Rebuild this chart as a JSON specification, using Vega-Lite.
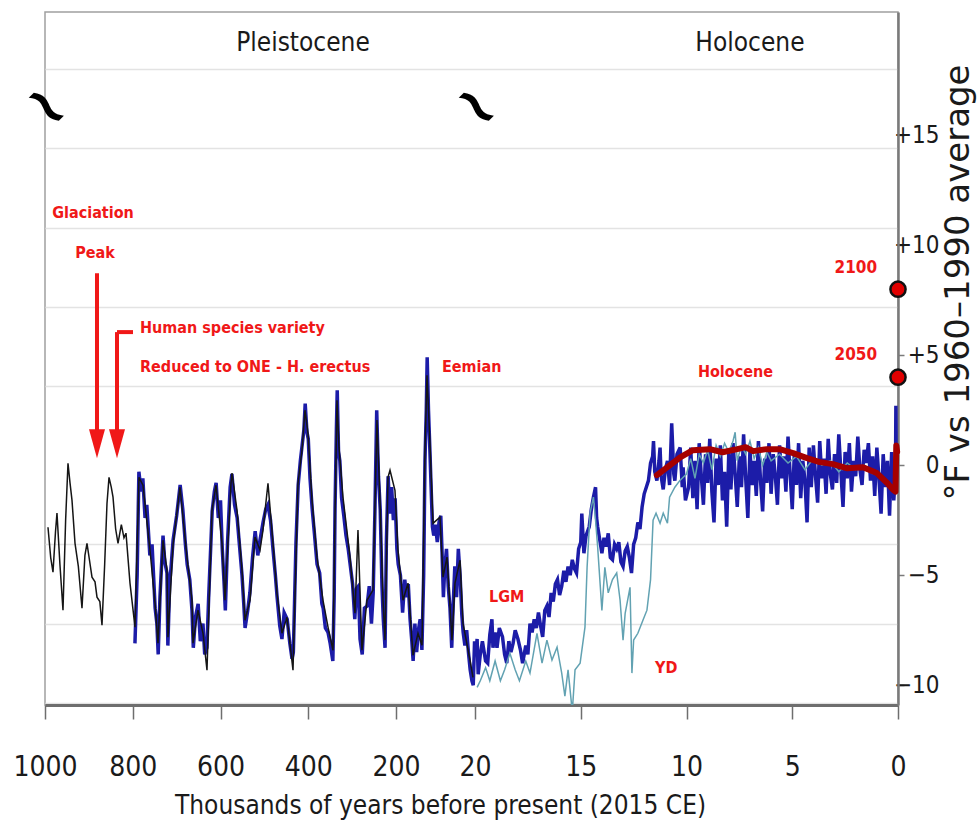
{
  "$schema": "https://vega.github.io/schema/vega-lite/v6.json",
  "autosize": {"type": "none"},
  "width": 853,
  "height": 693,
  "padding": {"left": 45, "top": 12, "right": 80, "bottom": 118},
  "background": "white",
  "config": {"view": {"stroke": "#a0a0a0", "strokeWidth": 1.5}, "font": "DejaVu Sans Condensed, Liberation Sans, sans-serif"},
  "datasets": {
    "black": [
      {"t":993.2,"v":-2.82},{"t":987,"v":-4.2},{"t":981.8,"v":-4.86},{"t":976,"v":-3.0},{"t":972.7,"v":-2.18},{"t":966,"v":-4.5},{"t":959,"v":-6.59},{"t":953,"v":-2.5},{"t":947.6,"v":0.09},{"t":943,"v":-0.8},{"t":938.5,"v":-1.59},{"t":931.6,"v":-3.55},{"t":924,"v":-4.6},{"t":915.7,"v":-6.5},{"t":909,"v":-4.1},{"t":904.3,"v":-3.55},{"t":898,"v":-4.4},{"t":892.9,"v":-5.09},{"t":886,"v":-5.3},{"t":881.5,"v":-6.0},{"t":875,"v":-6.2},{"t":870.1,"v":-7.27},{"t":864,"v":-4.5},{"t":858.7,"v":-1.73},{"t":854.1,"v":-0.55},{"t":849,"v":-1.0},{"t":845,"v":-1.45},{"t":839,"v":-2.9},{"t":833.6,"v":-3.55},{"t":826,"v":-2.7},{"t":820,"v":-3.3},{"t":815.4,"v":-3.09},{"t":806.3,"v":-5.36},{"t":794.9,"v":-7.36},{"t":785.8,"v":-0.55},{"t":776.7,"v":-0.91},{"t":760.7,"v":-3.86},{"t":749.3,"v":-6.27},{"t":742.5,"v":-8.09},{"t":731.1,"v":-3.41},{"t":722,"v":-4.77},{"t":719.7,"v":-7.82},{"t":708.3,"v":-3.64},{"t":692.3,"v":-1.0},{"t":676.4,"v":-4.18},{"t":665,"v":-6.14},{"t":662.7,"v":-8.09},{"t":651.3,"v":-6.59},{"t":639.9,"v":-7.64},{"t":630.8,"v":-9.32},{"t":619.4,"v":-2.05},{"t":610.3,"v":-0.91},{"t":596.6,"v":-3.55},{"t":589.8,"v":-6.14},{"t":576.1,"v":-0.82},{"t":573.8,"v":-0.36},{"t":562.4,"v":-2.05},{"t":551,"v":-4.77},{"t":544.2,"v":-7.05},{"t":532.8,"v":-6.14},{"t":521.4,"v":-3.27},{"t":510,"v":-3.86},{"t":503.2,"v":-2.95},{"t":491.8,"v":-0.82},{"t":480.4,"v":-3.55},{"t":471.3,"v":-5.82},{"t":459.9,"v":-7.64},{"t":448.5,"v":-6.91},{"t":434.8,"v":-9.32},{"t":423.4,"v":-0.82},{"t":414.3,"v":0.68},{"t":407.5,"v":2.5},{"t":400.6,"v":1.45},{"t":391.5,"v":-1.59},{"t":380.1,"v":-4.18},{"t":366.4,"v":-6.14},{"t":355,"v":-7.36},{"t":343.6,"v":-8.41},{"t":339.1,"v":-2.36},{"t":334.5,"v":2.95},{"t":330,"v":0.82},{"t":320.9,"v":-1.45},{"t":304.9,"v":-4.18},{"t":293.5,"v":-6.73},{"t":286.7,"v":-2.95},{"t":277.6,"v":-8.41},{"t":266.2,"v":-6.14},{"t":252.5,"v":-5.68},{"t":243.4,"v":2.05},{"t":236.5,"v":-1.59},{"t":229.7,"v":-6.14},{"t":225.1,"v":-7.95},{"t":218.3,"v":-0.55},{"t":213.7,"v":-0.23},{"t":202.4,"v":-1.14},{"t":195.5,"v":-3.86},{"t":184.1,"v":-6.14},{"t":172.7,"v":-5.36},{"t":161.3,"v":-8.64},{"t":149.9,"v":-7.64},{"t":140.8,"v":-8.18},{"t":134,"v":0.68},{"t":129.4,"v":4.09},{"t":122.6,"v":1.0},{"t":115.7,"v":-2.64},{"t":99.8,"v":-2.36},{"t":92.9,"v":-5.09},{"t":83.8,"v":-4.18},{"t":72.4,"v":-7.95},{"t":65.6,"v":-5.36},{"t":54.2,"v":-4.32},{"t":47.4,"v":-7.18},{"t":31.4,"v":-8.86},{"t":24.6,"v":-9.64}
    ],
    "blue": [
      {"t":795,"v":-8.1},{"t":790,"v":-5},{"t":786,"v":-0.3},{"t":781,"v":-1.2},{"t":777,"v":-0.6},{"t":772,"v":-2.4},{"t":768,"v":-1.8},{"t":761,"v":-4.1},{"t":756,"v":-3.6},{"t":749,"v":-6.5},{"t":745,"v":-7.2},{"t":742,"v":-8.6},{"t":738,"v":-6.0},{"t":731,"v":-3.2},{"t":727,"v":-4.4},{"t":722,"v":-4.9},{"t":720,"v":-8.2},{"t":716,"v":-5.5},{"t":708,"v":-3.4},{"t":700,"v":-2.3},{"t":692,"v":-0.9},{"t":686,"v":-2.0},{"t":680,"v":-3.6},{"t":676,"v":-4.5},{"t":670,"v":-5.2},{"t":665,"v":-6.6},{"t":662,"v":-8.3},{"t":657,"v":-6.9},{"t":651,"v":-6.3},{"t":646,"v":-8.0},{"t":640,"v":-7.2},{"t":636,"v":-8.6},{"t":631,"v":-8.3},{"t":627,"v":-6.0},{"t":619,"v":-2.1},{"t":614,"v":-1.2},{"t":610,"v":-0.8},{"t":605,"v":-2.4},{"t":600,"v":-1.6},{"t":596,"v":-3.8},{"t":592,"v":-5.3},{"t":589,"v":-6.6},{"t":584,"v":-3.5},{"t":578,"v":-1.0},{"t":574,"v":-0.4},{"t":568,"v":-1.8},{"t":562,"v":-2.4},{"t":557,"v":-3.6},{"t":551,"v":-5.0},{"t":547,"v":-6.3},{"t":544,"v":-7.4},{"t":538,"v":-6.6},{"t":533,"v":-5.8},{"t":527,"v":-4.2},{"t":521,"v":-3.0},{"t":515,"v":-4.1},{"t":510,"v":-3.4},{"t":503,"v":-2.6},{"t":497,"v":-2.0},{"t":492,"v":-1.8},{"t":486,"v":-2.5},{"t":480,"v":-3.9},{"t":475,"v":-5.0},{"t":471,"v":-6.0},{"t":465,"v":-7.3},{"t":460,"v":-7.9},{"t":455,"v":-6.7},{"t":448,"v":-7.0},{"t":442,"v":-8.1},{"t":437,"v":-8.8},{"t":434,"v":-8.5},{"t":428,"v":-3.5},{"t":423,"v":-0.9},{"t":418,"v":0.2},{"t":414,"v":0.9},{"t":410,"v":1.6},{"t":407,"v":2.8},{"t":403,"v":1.5},{"t":400,"v":1.2},{"t":396,"v":-0.6},{"t":391,"v":-2.0},{"t":386,"v":-3.1},{"t":380,"v":-4.5},{"t":374,"v":-4.9},{"t":369,"v":-6.3},{"t":366,"v":-6.5},{"t":361,"v":-7.4},{"t":355,"v":-7.6},{"t":350,"v":-8.1},{"t":344,"v":-8.9},{"t":341,"v":-6.0},{"t":339,"v":-2.0},{"t":336,"v":1.5},{"t":334,"v":3.4},{"t":331,"v":0.6},{"t":328,"v":0.2},{"t":324,"v":-1.5},{"t":319,"v":-2.3},{"t":314,"v":-3.2},{"t":309,"v":-3.8},{"t":304,"v":-4.6},{"t":299,"v":-5.4},{"t":294,"v":-7.0},{"t":290,"v":-5.6},{"t":286,"v":-5.5},{"t":282,"v":-7.9},{"t":277,"v":-8.6},{"t":272,"v":-6.5},{"t":266,"v":-6.4},{"t":261,"v":-5.5},{"t":256,"v":-7.2},{"t":252,"v":-5.8},{"t":248,"v":-2.0},{"t":244,"v":2.5},{"t":240,"v":-0.5},{"t":236,"v":-2.0},{"t":232,"v":-5.5},{"t":229,"v":-7.0},{"t":225,"v":-8.3},{"t":222,"v":-3.5},{"t":218,"v":-0.5},{"t":214,"v":-2.2},{"t":210,"v":-1.0},{"t":206,"v":-2.5},{"t":202,"v":-1.5},{"t":198,"v":-3.8},{"t":195,"v":-4.5},{"t":190,"v":-5.0},{"t":185,"v":-6.7},{"t":180,"v":-5.2},{"t":176,"v":-6.0},{"t":172,"v":-5.4},{"t":168,"v":-7.0},{"t":164,"v":-8.0},{"t":161,"v":-8.9},{"t":157,"v":-7.2},{"t":153,"v":-8.5},{"t":149,"v":-7.5},{"t":145,"v":-7.0},{"t":141,"v":-8.4},{"t":137,"v":-5.0},{"t":134,"v":0.2},{"t":131,"v":2.5},{"t":129,"v":4.9},{"t":126,"v":2.5},{"t":123,"v":0.8},{"t":120,"v":-1.0},{"t":117,"v":-2.8},{"t":114,"v":-3.2},{"t":110,"v":-2.7},{"t":106,"v":-3.5},{"t":102,"v":-2.6},{"t":98,"v":-2.3},{"t":95,"v":-4.0},{"t":92,"v":-6.0},{"t":89,"v":-4.7},{"t":85,"v":-3.8},{"t":81,"v":-5.5},{"t":77,"v":-6.5},{"t":73,"v":-8.3},{"t":70,"v":-6.5},{"t":66,"v":-4.6},{"t":62,"v":-6.0},{"t":58,"v":-3.8},{"t":54,"v":-5.0},{"t":50,"v":-6.8},{"t":47,"v":-7.6},{"t":43,"v":-8.2},{"t":39,"v":-7.5},{"t":35,"v":-8.5},{"t":31,"v":-9.3},{"t":27,"v":-9.8},{"t":24,"v":-10.0},{"t":21,"v":-8.0},
      {"t":19.95,"v":-8.5},{"t":19.9,"v":-7.9},{"t":19.85,"v":-9.5},{"t":19.75,"v":-8.6},{"t":19.65,"v":-8.0},{"t":19.6,"v":-8.3},{"t":19.5,"v":-8.9},{"t":19.4,"v":-9.0},{"t":19.3,"v":-7.7},{"t":19.2,"v":-7.0},{"t":19.15,"v":-8.3},{"t":19.05,"v":-7.6},{"t":18.96,"v":-8.3},{"t":18.85,"v":-7.4},{"t":18.7,"v":-7.8},{"t":18.6,"v":-8.6},{"t":18.5,"v":-9.0},{"t":18.4,"v":-8.0},{"t":18.3,"v":-8.5},{"t":18.2,"v":-8.1},{"t":18.1,"v":-7.5},{"t":17.97,"v":-7.9},{"t":17.85,"v":-8.4},{"t":17.75,"v":-9.0},{"t":17.6,"v":-8.2},{"t":17.5,"v":-8.6},{"t":17.4,"v":-7.2},{"t":17.3,"v":-7.6},{"t":17.2,"v":-7.0},{"t":17.1,"v":-7.4},{"t":17.0,"v":-6.7},{"t":16.9,"v":-7.3},{"t":16.8,"v":-7.8},{"t":16.7,"v":-6.6},{"t":16.6,"v":-6.4},{"t":16.5,"v":-6.9},{"t":16.4,"v":-5.8},{"t":16.3,"v":-6.2},{"t":16.2,"v":-5.4},{"t":16.1,"v":-5.2},{"t":16.0,"v":-5.9},{"t":15.9,"v":-5.5},{"t":15.8,"v":-4.8},{"t":15.7,"v":-5.3},{"t":15.6,"v":-4.6},{"t":15.5,"v":-5.0},{"t":15.4,"v":-4.3},{"t":15.3,"v":-4.7},{"t":15.2,"v":-4.9},{"t":15.1,"v":-3.8},{"t":15.0,"v":-3.5},{"t":14.95,"v":-2.2},{"t":14.85,"v":-4.0},{"t":14.75,"v":-3.2},{"t":14.6,"v":-2.8},{"t":14.5,"v":-2.0},{"t":14.4,"v":-1.45},{"t":14.3,"v":-1.0},{"t":14.25,"v":-2.4},{"t":14.2,"v":-2.8},{"t":14.1,"v":-3.4},{"t":14.0,"v":-4.0},{"t":13.9,"v":-3.3},{"t":13.8,"v":-3.7},{"t":13.7,"v":-3.1},{"t":13.6,"v":-4.2},{"t":13.5,"v":-4.3},{"t":13.4,"v":-3.6},{"t":13.3,"v":-3.8},{"t":13.2,"v":-3.5},{"t":13.1,"v":-4.4},{"t":13.0,"v":-4.6},{"t":12.9,"v":-3.9},{"t":12.8,"v":-3.7},{"t":12.7,"v":-4.2},{"t":12.6,"v":-4.9},{"t":12.5,"v":-3.6},{"t":12.4,"v":-3.3},{"t":12.3,"v":-2.6},{"t":12.2,"v":-2.9},{"t":12.1,"v":-1.9},{"t":12.0,"v":-1.3},{"t":11.9,"v":-1.0},{"t":11.8,"v":-0.7},{"t":11.7,"v":0.1},{"t":11.6,"v":0.4},{"t":11.56,"v":1.1},{"t":11.5,"v":-0.3},{"t":11.4,"v":-0.7},{"t":11.3,"v":0.2},{"t":11.25,"v":0.8},{"t":11.2,"v":-0.5},{"t":11.1,"v":-1.1},{"t":11.0,"v":-0.2},{"t":10.9,"v":0.2},{"t":10.8,"v":-0.9},{"t":10.7,"v":1.9},{"t":10.6,"v":-0.4},{"t":10.55,"v":-0.7},{"t":10.45,"v":0.5},{"t":10.3,"v":0.8},{"t":10.2,"v":-1.0},{"t":10.16,"v":-0.1},{"t":10.05,"v":-1.6},
      {"t":9.9,"v":-1.0},{"t":9.8,"v":0.8},{"t":9.7,"v":-1.5},{"t":9.6,"v":0.2},{"t":9.5,"v":-2.0},{"t":9.4,"v":1.0},{"t":9.3,"v":-0.5},{"t":9.2,"v":-1.8},{"t":9.1,"v":0.5},{"t":9.0,"v":-0.8},{"t":8.9,"v":1.2},{"t":8.8,"v":-1.2},{"t":8.7,"v":-2.6},{"t":8.6,"v":0.3},{"t":8.5,"v":-0.9},{"t":8.4,"v":0.9},{"t":8.3,"v":-1.6},{"t":8.2,"v":-0.3},{"t":8.1,"v":-2.8},{"t":8.0,"v":0.6},{"t":7.9,"v":-1.1},{"t":7.8,"v":1.0},{"t":7.7,"v":-0.4},{"t":7.6,"v":-1.9},{"t":7.5,"v":0.4},{"t":7.4,"v":-1.0},{"t":7.3,"v":1.4},{"t":7.2,"v":-0.6},{"t":7.1,"v":-2.4},{"t":7.0,"v":0.7},{"t":6.9,"v":-0.9},{"t":6.8,"v":0.2},{"t":6.7,"v":-1.4},{"t":6.6,"v":1.1},{"t":6.5,"v":-0.7},{"t":6.4,"v":-2.1},{"t":6.3,"v":0.3},{"t":6.2,"v":-0.8},{"t":6.1,"v":1.0},{"t":6.0,"v":-1.3},{"t":5.9,"v":0.5},{"t":5.8,"v":-0.5},{"t":5.7,"v":-1.8},{"t":5.6,"v":0.9},{"t":5.5,"v":-0.6},{"t":5.4,"v":0.4},{"t":5.3,"v":-1.2},{"t":5.2,"v":1.3},{"t":5.1,"v":-0.4},{"t":5.0,"v":-2.0},{"t":4.9,"v":0.6},{"t":4.8,"v":-0.9},{"t":4.7,"v":1.0},{"t":4.6,"v":-1.5},{"t":4.5,"v":0.2},{"t":4.4,"v":-0.7},{"t":4.3,"v":-2.6},{"t":4.2,"v":0.8},{"t":4.1,"v":-1.0},{"t":4.0,"v":0.9},{"t":3.9,"v":-0.5},{"t":3.8,"v":-1.7},{"t":3.7,"v":1.1},{"t":3.6,"v":-0.6},{"t":3.5,"v":0.3},{"t":3.4,"v":-1.3},{"t":3.3,"v":1.2},{"t":3.2,"v":-0.4},{"t":3.1,"v":-1.1},{"t":3.0,"v":0.5},{"t":2.9,"v":-0.8},{"t":2.8,"v":1.4},{"t":2.7,"v":-0.3},{"t":2.6,"v":-1.9},{"t":2.5,"v":0.6},{"t":2.4,"v":-0.6},{"t":2.3,"v":1.0},{"t":2.2,"v":-1.2},{"t":2.1,"v":0.2},{"t":2.0,"v":-0.5},{"t":1.9,"v":1.3},{"t":1.8,"v":-0.2},{"t":1.7,"v":-0.9},{"t":1.6,"v":0.7},{"t":1.5,"v":0.1},{"t":1.4,"v":1.0},{"t":1.3,"v":-0.7},{"t":1.2,"v":0.4},{"t":1.1,"v":-1.4},{"t":1.0,"v":0.8},{"t":0.9,"v":-0.6},{"t":0.8,"v":-2.2},{"t":0.7,"v":0.5},{"t":0.6,"v":-1.0},{"t":0.5,"v":0.2},{"t":0.4,"v":-2.3},{"t":0.3,"v":0.6},{"t":0.2,"v":-1.6},{"t":0.12,"v":-0.5},{"t":0.1,"v":2.7},{"t":0.08,"v":-1.0},{"t":0.03,"v":0.5}
    ],
    "teal": [
      {"t":19.9,"v":-10.1},{"t":19.75,"v":-9.8},{"t":19.5,"v":-9.2},{"t":19.3,"v":-9.8},{"t":19.05,"v":-8.9},{"t":18.8,"v":-9.8},{"t":18.6,"v":-9.3},{"t":18.35,"v":-8.55},{"t":18.1,"v":-9.3},{"t":17.9,"v":-9.8},{"t":17.6,"v":-8.9},{"t":17.4,"v":-9.45},{"t":17.07,"v":-7.64},{"t":16.83,"v":-9.0},{"t":16.6,"v":-7.95},{"t":16.36,"v":-8.86},{"t":16.12,"v":-8.27},{"t":15.9,"v":-9.45},{"t":15.75,"v":-10.5},{"t":15.6,"v":-9.3},{"t":15.4,"v":-11.2},{"t":15.27,"v":-9.3},{"t":15.03,"v":-9.0},{"t":14.8,"v":-7.36},{"t":14.7,"v":-4.64},{"t":14.56,"v":-2.18},{"t":14.4,"v":-1.45},{"t":14.3,"v":-2.5},{"t":14.2,"v":-3.73},{"t":14.0,"v":-6.6},{"t":13.86,"v":-4.64},{"t":13.7,"v":-5.8},{"t":13.5,"v":-5.2},{"t":13.3,"v":-4.9},{"t":13.14,"v":-6.14},{"t":13.0,"v":-7.95},{"t":12.9,"v":-6.73},{"t":12.67,"v":-5.55},{"t":12.58,"v":-9.45},{"t":12.5,"v":-7.95},{"t":12.3,"v":-7.64},{"t":12.06,"v":-7.05},{"t":11.87,"v":-6.59},{"t":11.7,"v":-5.2},{"t":11.58,"v":-2.5},{"t":11.44,"v":-2.18},{"t":11.25,"v":-2.64},{"t":11.1,"v":-2.18},{"t":10.9,"v":-2.64},{"t":10.8,"v":-1.45},{"t":10.55,"v":-1.0},{"t":10.3,"v":-0.68},{"t":10.0,"v":-0.4},{"t":9.8,"v":0.3},{"t":9.6,"v":-0.6},{"t":9.4,"v":0.5},{"t":9.2,"v":0.1},{"t":9.0,"v":0.7},{"t":8.8,"v":-0.2},{"t":8.6,"v":0.9},{"t":8.4,"v":0.4},{"t":8.2,"v":1.0},{"t":8.0,"v":0.6},{"t":7.8,"v":1.1},{"t":7.7,"v":1.5},{"t":7.6,"v":0.2},{"t":7.4,"v":0.9},{"t":7.2,"v":0.5},{"t":7.0,"v":1.1},{"t":6.8,"v":0.3},{"t":6.6,"v":0.8},{"t":6.4,"v":0.0},{"t":6.2,"v":0.6},{"t":6.0,"v":0.2},{"t":5.6,"v":0.5},{"t":5.2,"v":0.1},{"t":4.8,"v":0.4},{"t":4.4,"v":-0.2},{"t":4.0,"v":0.3},{"t":3.6,"v":0.0},{"t":3.2,"v":0.2},{"t":2.8,"v":-0.3},{"t":2.4,"v":0.1},{"t":2.0,"v":-0.2},{"t":1.6,"v":0.0},{"t":1.2,"v":-0.4}
    ],
    "red": [
      {"t":11.4,"v":-0.45},{"t":10.9,"v":-0.09},{"t":10.3,"v":0.36},{"t":9.7,"v":0.68},{"t":8.9,"v":0.73},{"t":8.3,"v":0.59},{"t":7.6,"v":0.73},{"t":7.2,"v":0.82},{"t":6.85,"v":0.64},{"t":6.2,"v":0.73},{"t":5.6,"v":0.73},{"t":4.96,"v":0.55},{"t":4.3,"v":0.32},{"t":3.7,"v":0.14},{"t":3.07,"v":0.05},{"t":2.4,"v":-0.14},{"t":1.65,"v":-0.09},{"t":1.0,"v":-0.36},{"t":0.5,"v":-0.82},{"t":0.25,"v":-1.1},{"t":0.12,"v":-1.2},{"t":0.08,"v":0.9},{"t":0.04,"v":0.6}
    ],
    "projections": [
      {"year":"2100","t":0,"v":8},
      {"year":"2050","t":0,"v":4}
    ],
    "notes": [
      {"label":"Glaciation","t":890.6,"v":11.45,"grp":"center"},
      {"label":"Peak","t":886,"v":9.64,"grp":"center"},
      {"label":"Human species variety","t":783.5,"v":6.23,"grp":"left"},
      {"label":"Reduced to ONE - H. erectus","t":783.5,"v":4.45,"grp":"left"},
      {"label":"Eemian","t":95.2,"v":4.45,"grp":"left"},
      {"label":"LGM","t":19.34,"v":-6.0,"grp":"left"},
      {"label":"YD","t":11.49,"v":-9.2,"grp":"left"},
      {"label":"Holocene","t":9.46,"v":4.23,"grp":"left"},
      {"label":"2100","t":0.99,"v":8.95,"grp":"right"},
      {"label":"2050","t":0.99,"v":5.0,"grp":"right"}
    ],
    "epochs": [
      {"label":"Pleistocene","t":412,"v":19.2},
      {"label":"Holocene","t":7.0,"v":19.2}
    ],
    "breaks": [
      {"t":1000,"v":16.3},
      {"t":20,"v":16.3}
    ],
    "arrows": [
      {"t":881.5,"v1":8.73,"v2":1.5},
      {"t":835.9,"v1":6.05,"v2":1.5}
    ],
    "arrowheads": [
      {"t":881.5,"v":0.32},
      {"t":835.9,"v":0.32}
    ],
    "bracket": [
      {"t":835.9,"t2":799.4,"v":6.05}
    ]
  },
  "resolve": {"axis": {"y": "independent", "x": "independent"}},
  "layer": [
    {
      "mark": {"type": "rule", "color": "#6e6e6e", "strokeWidth": 3},
      "encoding": {
        "y": {"datum": 0, "type": "quantitative",
          "scale": {"domain": [-10.9, 20.6], "nice": false, "zero": false},
          "axis": {"orient": "left", "values": [-10.8, -7.2, -3.6, 3.6, 7.2, 10.8, 14.4, 18], "grid": true, "gridColor": "#e3e3e3", "gridWidth": 1.5, "labels": false, "ticks": false, "domain": false, "title": null}}
      }
    },
    {
      "mark": {"type": "rule", "color": "#7a7a7a", "strokeWidth": 5},
      "encoding": {"y": {"datum": 20.6, "type": "quantitative", "axis": null}}
    },
    {
      "mark": {"type": "rule", "color": "#b0b0b0", "strokeWidth": 1.5, "xOffset": 3},
      "encoding": {"x": {"datum": 1000, "type": "quantitative", "axis": null}}
    },
    {
      "mark": {"type": "rule", "color": "#a8a8a8", "strokeWidth": 1.5, "xOffset": -2},
      "encoding": {"x": {"datum": 20, "type": "quantitative", "axis": null}}
    },
    {
      "mark": {"type": "rule", "color": "#a8a8a8", "strokeWidth": 1.5, "xOffset": 2},
      "encoding": {"x": {"datum": 20, "type": "quantitative", "axis": null}}
    },
    {
      "mark": {"type": "rule", "color": "#808080", "strokeWidth": 1.5},
      "encoding": {
        "x": {"datum": 12.2, "type": "quantitative", "axis": null},
        "y": {"datum": 20.6, "type": "quantitative", "axis": null},
        "y2": {"datum": 19.5}
      }
    },
    {
      "data": {"name": "blue"},
      "mark": {"type": "line", "color": "#1c1ca8", "strokeWidth": 3.5, "clip": true},
      "encoding": {
        "x": {"field": "t", "type": "quantitative",
          "scale": {"domain": [1000, 20, 0], "range": [0, 430, 853], "nice": false, "zero": false},
          "axis": {"values": [1000, 800, 600, 400, 200, 20, 15, 10, 5, 0], "format": "d", "grid": false,
            "domainColor": "#6e6e6e", "domainWidth": 3, "tickColor": "#6e6e6e", "tickWidth": 1.5, "tickSize": 14,
            "labelFont": "DejaVu Sans Condensed, Liberation Sans, sans-serif", "labelFontSize": 28, "labelColor": "#1a1a1a", "labelPadding": 34,
            "labelFlush": false, "labelOverlap": false,
            "title": "Thousands of years before present (2015 CE)", "titleFont": "DejaVu Sans Condensed, Liberation Sans, sans-serif", "titleFontSize": 26,
            "titleFontWeight": "normal", "titleColor": "#1a1a1a", "titleX": 395, "titleY": 100, "titleAlign": "center", "titleBaseline": "middle"}},
        "y": {"field": "v", "type": "quantitative",
          "axis": {"orient": "right", "values": [-10, -5, 0, 5, 10, 15],
            "labelExpr": "datum.value > 0 ? '+' + datum.value : (datum.value < 0 ? '−' + abs(datum.value) : '0')",
            "grid": false, "domainColor": "#7a7a7a", "domainWidth": 2.5, "tickColor": "#7a7a7a", "tickSize": 6, "tickWidth": 1.5,
            "labelFont": "DejaVu Sans Condensed, Liberation Sans, sans-serif", "labelFontSize": 24, "labelColor": "#1a1a1a", "labelAlign": "right", "labelPadding": 35,
            "labelBaseline": "middle", "labelFlush": false,
            "title": "°F vs 1960–1990 average", "titleFont": "DejaVu Sans", "titleFontSize": 34, "titleFontWeight": "normal",
            "titleColor": "#1a1a1a", "titleAngle": 270, "titleX": 60, "titleY": 270, "titleAlign": "center", "titleBaseline": "middle"}}
      }
    },
    {
      "data": {"name": "black"},
      "mark": {"type": "line", "color": "#151515", "strokeWidth": 1.5},
      "encoding": {
        "x": {"field": "t", "type": "quantitative", "axis": null},
        "y": {"field": "v", "type": "quantitative", "axis": null}
      }
    },
    {
      "data": {"name": "teal"},
      "mark": {"type": "line", "color": "#62a2b2", "strokeWidth": 1.5, "clip": true},
      "encoding": {
        "x": {"field": "t", "type": "quantitative", "axis": null},
        "y": {"field": "v", "type": "quantitative", "axis": null}
      }
    },
    {
      "data": {"name": "red"},
      "mark": {"type": "line", "color": "#a50000", "strokeWidth": 6, "strokeCap": "round", "strokeJoin": "round"},
      "encoding": {
        "x": {"field": "t", "type": "quantitative", "axis": null},
        "y": {"field": "v", "type": "quantitative", "axis": null}
      }
    },
    {
      "data": {"name": "projections"},
      "mark": {"type": "point", "shape": "circle", "filled": true, "size": 230, "color": "#e00000", "stroke": "#111111", "strokeWidth": 2.5, "opacity": 1},
      "encoding": {
        "x": {"field": "t", "type": "quantitative", "axis": null},
        "y": {"field": "v", "type": "quantitative", "axis": null}
      }
    },
    {
      "data": {"name": "arrows"},
      "mark": {"type": "rule", "color": "#f01818", "strokeWidth": 4},
      "encoding": {
        "x": {"field": "t", "type": "quantitative", "axis": null},
        "y": {"field": "v1", "type": "quantitative", "axis": null},
        "y2": {"field": "v2"}
      }
    },
    {
      "data": {"name": "bracket"},
      "mark": {"type": "rule", "color": "#f01818", "strokeWidth": 4},
      "encoding": {
        "x": {"field": "t", "type": "quantitative", "axis": null},
        "x2": {"field": "t2"},
        "y": {"field": "v", "type": "quantitative", "axis": null}
      }
    },
    {
      "data": {"name": "arrowheads"},
      "mark": {"type": "point", "shape": "M-0.5,-1.8L0.5,-1.8L0,0Z", "filled": true, "size": 1024, "color": "#f01818", "opacity": 1},
      "encoding": {
        "x": {"field": "t", "type": "quantitative", "axis": null},
        "y": {"field": "v", "type": "quantitative", "axis": null}
      }
    },
    {
      "data": {"name": "notes"},
      "transform": [{"filter": "datum.grp === 'center'"}],
      "mark": {"type": "text", "align": "center", "baseline": "middle", "font": "DejaVu Sans Condensed, Liberation Sans, sans-serif", "fontSize": 16, "fontWeight": "bold", "color": "#f01818"},
      "encoding": {
        "x": {"field": "t", "type": "quantitative", "axis": null},
        "y": {"field": "v", "type": "quantitative", "axis": null},
        "text": {"field": "label"}
      }
    },
    {
      "data": {"name": "notes"},
      "transform": [{"filter": "datum.grp === 'left'"}],
      "mark": {"type": "text", "align": "left", "baseline": "middle", "font": "DejaVu Sans Condensed, Liberation Sans, sans-serif", "fontSize": 16, "fontWeight": "bold", "color": "#f01818"},
      "encoding": {
        "x": {"field": "t", "type": "quantitative", "axis": null},
        "y": {"field": "v", "type": "quantitative", "axis": null},
        "text": {"field": "label"}
      }
    },
    {
      "data": {"name": "notes"},
      "transform": [{"filter": "datum.grp === 'right'"}],
      "mark": {"type": "text", "align": "right", "baseline": "middle", "font": "DejaVu Sans Condensed, Liberation Sans, sans-serif", "fontSize": 17, "fontWeight": "bold", "color": "#f01818"},
      "encoding": {
        "x": {"field": "t", "type": "quantitative", "axis": null},
        "y": {"field": "v", "type": "quantitative", "axis": null},
        "text": {"field": "label"}
      }
    },
    {
      "data": {"name": "epochs"},
      "mark": {"type": "text", "align": "center", "baseline": "middle", "font": "DejaVu Sans Condensed, Liberation Sans, sans-serif", "fontSize": 26, "color": "#1a1a1a"},
      "encoding": {
        "x": {"field": "t", "type": "quantitative", "axis": null},
        "y": {"field": "v", "type": "quantitative", "axis": null},
        "text": {"field": "label"}
      }
    },
    {
      "data": {"name": "breaks"},
      "mark": {"type": "text", "align": "center", "baseline": "middle", "font": "DejaVu Sans", "fontSize": 60, "fontWeight": "bold", "angle": 45, "dx": 1, "color": "#000000"},
      "encoding": {
        "x": {"field": "t", "type": "quantitative", "axis": null},
        "y": {"field": "v", "type": "quantitative", "axis": null},
        "text": {"value": "∼"}
      }
    }
  ]
}
